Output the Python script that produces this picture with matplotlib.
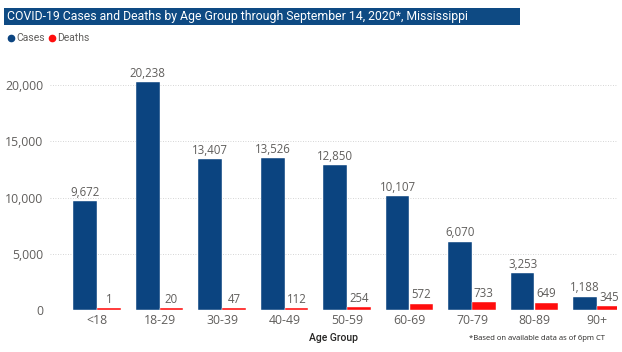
import matplotlib
matplotlib.use("Agg")
import matplotlib.pyplot as plt
import numpy as np
from matplotlib.patches import Rectangle
from matplotlib.lines import Line2D

categories = ["<18", "18-29", "30-39", "40-49", "50-59", "60-69", "70-79", "80-89", "90+"]
cases = [9672, 20238, 13407, 13526, 12850, 10107, 6070, 3253, 1188]
deaths = [1, 20, 47, 112, 254, 572, 733, 649, 345]
yticks = [0, 5000, 10000, 15000, 20000]

CASE_C = "#0B4480"
DEATH_C = "#FF0D0D"
GRAY = "#605E5C"
FONT = ["Open Sans", "DejaVu Sans"]
TITLE_FONT = ["Roboto", "DejaVu Sans"]

fig = plt.figure(figsize=(6.22, 3.52), dpi=100)
W, H = 622, 352
ax = fig.add_axes([50 / W, 1 - 310 / H, 567 / W, 255 / H])

x = np.arange(len(categories))
bw = 0.38
mind = 160  # minimum visible height for tiny death bars
ax.bar(x - bw / 2, cases, width=bw, color=CASE_C, edgecolor="white", linewidth=0.3, zorder=3)
ax.bar(x + bw / 2, [max(d, mind) for d in deaths], width=bw, color=DEATH_C,
       edgecolor="white", linewidth=0.3, zorder=3)

for xi, v in zip(x, cases):
    ax.text(xi - bw / 2, v + 200, f"{v:,}", ha="center", va="bottom", fontsize=8.3,
            color=GRAY, family=FONT)
for xi, v in zip(x, deaths):
    ax.text(xi + bw / 2, max(v, mind) + 200, f"{v:,}", ha="center", va="bottom", fontsize=8.3,
            color=GRAY, family=FONT)

ax.set_xlim(-0.752, 8.32)
ax.set_ylim(0, 22670)
ax.set_yticks(yticks)
ax.set_yticklabels([f"{v:,}" for v in yticks], family=FONT, fontsize=8.8, color=GRAY)
ax.set_xticks(x)
ax.set_xticklabels(categories, family=FONT, fontsize=8.8, color=GRAY)
ax.tick_params(length=0, pad=3)
ax.tick_params(axis="y", pad=5)
for s in ax.spines.values():
    s.set_visible(False)
ax.grid(axis="y", color="#C8C8C8", linestyle=(0, (1, 2)), linewidth=0.6, zorder=0)
ax.set_axisbelow(True)
ax.set_xlabel("Age Group", family=TITLE_FONT, fontsize=7.5, color="#252423", fontweight="medium", labelpad=4)

# title banner
fig.patches.append(Rectangle((4 / W, 1 - 25 / H), 516 / W, 17 / H, transform=fig.transFigure,
                             facecolor="#0E4A83", edgecolor="none"))
fig.text(7 / W, 1 - 16.5 / H, "COVID-19 Cases and Deaths by Age Group through September 14, 2020*, Mississippi",
         ha="left", va="center", color="white", fontsize=8.8, family=TITLE_FONT)

# legend
ly = 1 - 38 / H
fig.lines.append(Line2D([11 / W], [ly], marker="o", markersize=4.5, color=CASE_C,
                        transform=fig.transFigure, linestyle="none"))
fig.text(16 / W, ly, "Cases", color=GRAY, fontsize=7.5, va="center", ha="left", family=TITLE_FONT)
fig.lines.append(Line2D([52 / W], [ly], marker="o", markersize=4.5, color=DEATH_C,
                        transform=fig.transFigure, linestyle="none"))
fig.text(57 / W, ly, "Deaths", color=GRAY, fontsize=7.5, va="center", ha="left", family=TITLE_FONT)

fig.text(605 / W, 1 - 338 / H, "*Based on available data as of 6pm CT", ha="right", va="center",
         fontsize=5.5, color="#252423", family=FONT)

fig.savefig("out.png", dpi=100)
